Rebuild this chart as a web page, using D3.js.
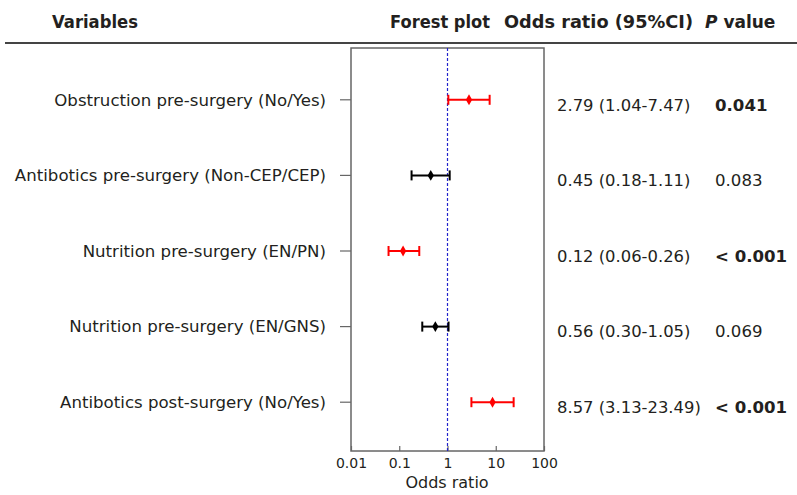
<!DOCTYPE html>
<html><head><meta charset="utf-8">
<script src="https://cdn.jsdelivr.net/npm/d3@7"></script>
<style>body{margin:0;background:#fff}svg{display:block}text{font-family:"DejaVu Sans",Verdana,sans-serif}</style>
</head><body><svg id="c" width="797" height="495"></svg>
<script>
const variables = ["Obstruction pre-surgery (No/Yes)","Antibotics pre-surgery (Non-CEP/CEP)","Nutrition pre-surgery (EN/PN)","Nutrition pre-surgery (EN/GNS)","Antibotics post-surgery (No/Yes)"];
const oddsRatio = [2.79,0.45,0.12,0.56,8.57];
const ciLow = [1.04,0.18,0.06,0.30,3.13];
const ciHigh = [7.47,1.11,0.26,1.05,23.49];
const pValues = ["0.041","0.083","< 0.001","0.069","< 0.001"];
const significant = [true,false,true,false,true];
const xTicks = [0.01,0.1,1,10,100];

(function(){
const svg = d3.select("#c");
const pL = 351, pR = 544, pT = 48, pB = 451;
const x = d3.scaleLog().domain([0.01,100]).range([pL,pR]);
const y = d3.scaleBand().domain(d3.range(variables.length)).range([62,440]);
const yc = i => y(i) + y.bandwidth()/2;
const ink = "#231f20";

// header
const hy = 28;
const hdr = (tx, x0, w) => svg.append("text").attr("x",x0).attr("y",hy).attr("font-weight","bold").attr("font-size",17).attr("fill",ink)
   .attr("textLength",w).attr("lengthAdjust","spacingAndGlyphs").text(tx);
hdr("Variables",52,86);
hdr("Forest plot",390,100);
hdr("Odds ratio (95%CI)",504,189);
const pv = svg.append("text").attr("x",705).attr("y",hy).attr("font-weight","bold").attr("font-size",17).attr("fill",ink);
pv.append("tspan").attr("font-style","italic").text("P");
pv.append("tspan").text(" value");
svg.append("line").attr("x1",5).attr("x2",797).attr("y1",43).attr("y2",43).attr("stroke","#444").attr("stroke-width",2);

// box
svg.append("rect").attr("x",pL).attr("y",pT).attr("width",pR-pL).attr("height",pB-pT).attr("fill","none").attr("stroke","#666").attr("stroke-width",1.5);

// x axis
const xAxis = d3.axisBottom(x).tickValues(xTicks).tickFormat(d=>String(d)).tickSizeInner(-5).tickSizeOuter(0);
const ax = svg.append("g").attr("transform",`translate(0,${pB})`).call(xAxis);
ax.select(".domain").remove();
ax.selectAll(".tick line").attr("stroke","#666").attr("stroke-width",1.2);
ax.selectAll(".tick text").attr("font-size",14).attr("fill",ink).attr("dy","0").attr("y",17).attr("font-family","DejaVu Sans, sans-serif");
svg.append("text").attr("x",447).attr("y",488).attr("text-anchor","middle").attr("font-size",16).attr("fill",ink).text("Odds ratio");

// reference line
svg.append("line").attr("x1",x(1)).attr("x2",x(1)).attr("y1",pT).attr("y2",pB).attr("stroke","#2222cc").attr("stroke-width",1.2).attr("stroke-dasharray","3,2");

// y ticks
svg.selectAll(".yt").data(variables).join("line").attr("x1",340).attr("x2",pL).attr("y1",(d,i)=>yc(i)).attr("y2",(d,i)=>yc(i)).attr("stroke","#666").attr("stroke-width",1.2);

// labels
svg.selectAll(".lab").data(variables).join("text").attr("x",326).attr("y",(d,i)=>yc(i)).attr("dy","0.35em").attr("text-anchor","end").attr("font-size",16.6).attr("fill",ink).text(d=>d);

// CIs
const col = i => significant[i] ? "#ff0000" : "#000";
const g = svg.selectAll(".ci").data(variables).join("g").attr("transform",(d,i)=>`translate(0,${yc(i)})`);
g.append("line").attr("x1",(d,i)=>x(ciLow[i])).attr("x2",(d,i)=>x(ciHigh[i])).attr("stroke",(d,i)=>col(i)).attr("stroke-width",2);
g.append("line").attr("x1",(d,i)=>x(ciLow[i])).attr("x2",(d,i)=>x(ciLow[i])).attr("y1",-5).attr("y2",5).attr("stroke",(d,i)=>col(i)).attr("stroke-width",2);
g.append("line").attr("x1",(d,i)=>x(ciHigh[i])).attr("x2",(d,i)=>x(ciHigh[i])).attr("y1",-5).attr("y2",5).attr("stroke",(d,i)=>col(i)).attr("stroke-width",2);
g.append("path").attr("d",d3.symbol(d3.symbolDiamond,34)()).attr("transform",(d,i)=>`translate(${x(oddsRatio[i])},0)`).attr("fill",(d,i)=>col(i));

// OR text
svg.selectAll(".or").data(variables).join("text").attr("x",557).attr("y",(d,i)=>yc(i)+5).attr("dy","0.35em").attr("font-size",16.4).attr("fill",ink)
  .text((d,i)=>`${oddsRatio[i].toFixed(2)} (${ciLow[i].toFixed(2)}-${ciHigh[i].toFixed(2)})`);
svg.selectAll(".pv").data(variables).join("text").attr("x",715).attr("y",(d,i)=>yc(i)+5).attr("dy","0.35em").attr("font-size",16.6).attr("fill",ink)
  .attr("font-weight",(d,i)=>significant[i]?"bold":"normal").text((d,i)=>pValues[i]);
})();
</script></body></html>
